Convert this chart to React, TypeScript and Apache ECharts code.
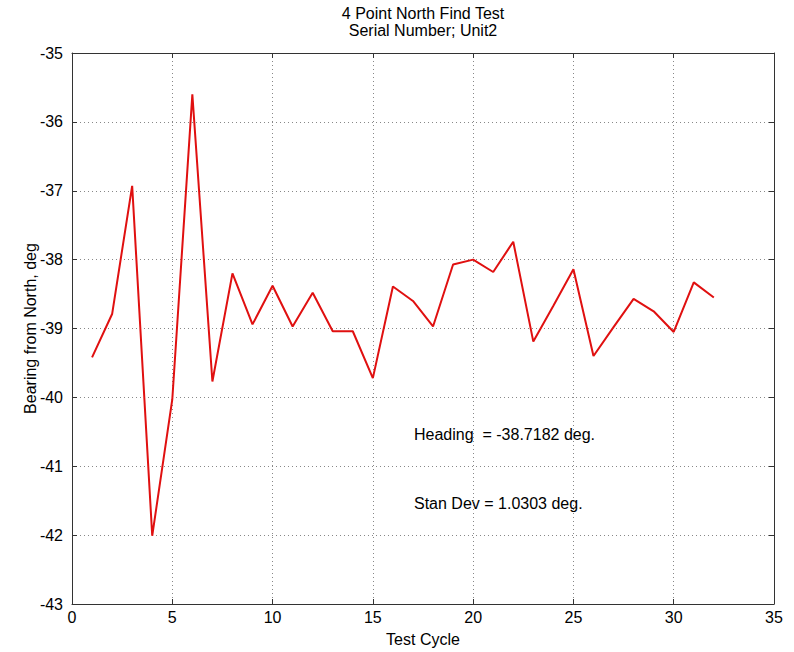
import React, { useEffect, useRef } from "react";
import * as echarts from "echarts";

const cycles = [1, 2, 3, 4, 5, 6, 7, 8, 9, 10, 11, 12, 13, 14, 15, 16, 17, 18, 19, 20, 21, 22, 23, 24, 25, 26, 27, 28, 29, 30, 31, 32];
const bearings = [
  -39.42, -38.79, -36.93, -42.01, -40.03, -35.6, -39.77, -38.2, -38.94, -38.38,
  -38.97, -38.48, -39.04, -39.04, -39.72, -38.39, -38.6, -38.97, -38.07, -38.0,
  -38.18, -37.74, -39.19, -38.67, -38.14, -39.4, -38.98, -38.57, -38.75, -39.05,
  -38.33, -38.55,
];
const titleLines = ["4 Point North Find Test", "Serial Number; Unit2"];
const annotations = ["Heading  = -38.7182 deg.", "Stan Dev = 1.0303 deg."];

const FONT = "'Liberation Sans', Arial, sans-serif";
const AXIS_COLOR = "#333";
const FS = 16;

export default function App() {
  const ref = useRef<HTMLDivElement>(null);
  useEffect(() => {
    if (!ref.current) return;
    const chart = echarts.init(ref.current, null, { renderer: "svg" });
    const tickStyle = { show: true, inside: true, length: 5, lineStyle: { color: AXIS_COLOR } };
    chart.setOption({
      animation: false,
      backgroundColor: "#fff",
      textStyle: { fontFamily: FONT },
      grid: { left: 72, right: 20, top: 53, bottom: 46 },
      xAxis: [
        {
          type: "value",
          min: 0,
          max: 35,
          interval: 5,
          position: "bottom",
          name: "Test Cycle",
          nameLocation: "middle",
          nameGap: 27,
          nameMoveOverlap: false,
          nameTextStyle: { fontSize: FS, color: "#000", fontFamily: FONT },
          axisLine: { show: true, onZero: false, lineStyle: { color: AXIS_COLOR } },
          axisTick: tickStyle,
          axisLabel: { fontSize: FS, color: "#000", margin: 5, fontFamily: FONT },
          splitLine: { show: true, lineStyle: { color: "#888", type: [1, 3], width: 1 } },
        },
        {
          type: "value",
          min: 0,
          max: 35,
          interval: 5,
          position: "top",
          axisLine: { show: true, onZero: false, lineStyle: { color: AXIS_COLOR } },
          axisTick: tickStyle,
          axisLabel: { show: false },
          splitLine: { show: false },
        },
      ],
      yAxis: [
        {
          type: "value",
          min: -43,
          max: -35,
          interval: 1,
          position: "left",
          name: "Bearing from North, deg",
          nameLocation: "middle",
          nameGap: 34,
          nameMoveOverlap: false,
          nameTextStyle: { fontSize: FS, color: "#000", fontFamily: FONT },
          axisLine: { show: true, onZero: false, lineStyle: { color: AXIS_COLOR } },
          axisTick: tickStyle,
          axisLabel: { fontSize: FS, color: "#000", margin: 9, fontFamily: FONT },
          splitLine: { show: true, lineStyle: { color: "#888", type: [1, 3], width: 1 } },
        },
        {
          type: "value",
          min: -43,
          max: -35,
          interval: 1,
          position: "right",
          axisLine: { show: true, onZero: false, lineStyle: { color: AXIS_COLOR } },
          axisTick: tickStyle,
          axisLabel: { show: false },
          splitLine: { show: false },
        },
      ],
      graphic: [
        {
          type: "text",
          x: 423,
          y: 13,
          style: { text: titleLines[0], fill: "#000", font: `${FS}px ${FONT}`, align: "center", verticalAlign: "middle" },
        },
        {
          type: "text",
          x: 423,
          y: 30,
          style: { text: titleLines[1], fill: "#000", font: `${FS}px ${FONT}`, align: "center", verticalAlign: "middle" },
        },
        {
          type: "text",
          x: 414,
          y: 434,
          style: { text: annotations[0], fill: "#000", font: `${FS}px ${FONT}`, align: "left", verticalAlign: "middle" },
        },
        {
          type: "text",
          x: 414,
          y: 503,
          style: { text: annotations[1], fill: "#000", font: `${FS}px ${FONT}`, align: "left", verticalAlign: "middle" },
        },
      ],
      series: [
        {
          type: "line",
          xAxisIndex: 0,
          yAxisIndex: 0,
          data: cycles.map((c, i) => [c, bearings[i]]),
          showSymbol: false,
          symbol: "none",
          lineStyle: { color: "#e01010", width: 2 },
        },
      ],
    });
    return () => chart.dispose();
  }, []);
  return <div ref={ref} style={{ position: "fixed", left: 0, top: 0, width: 794, height: 652 }} />;
}
